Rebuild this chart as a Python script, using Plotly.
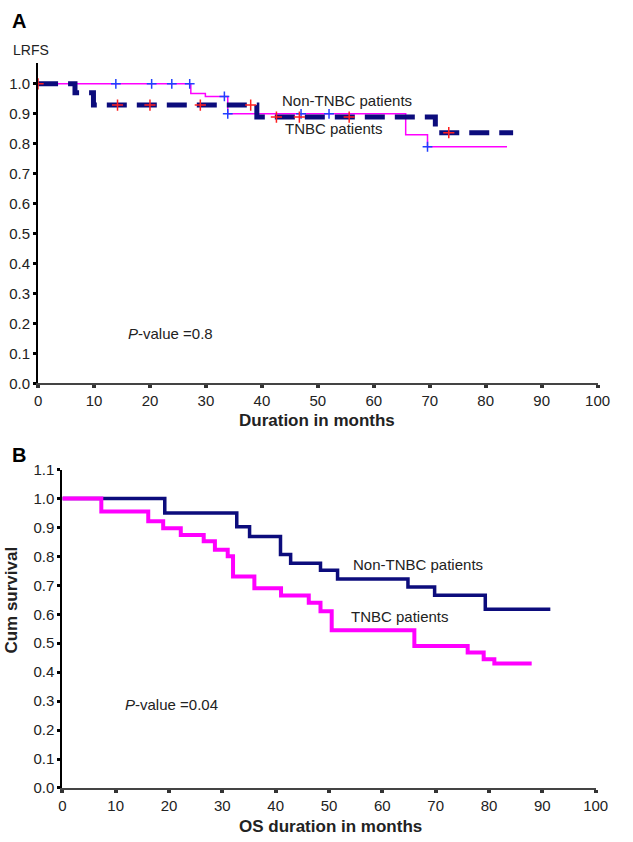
import plotly.graph_objects as go

# ---------------- Data ----------------
# Panel A: local recurrence-free survival (LRFS)
a_non_tnbc_time = [0, 6.6, 9.9, 39.1, 71.0, 84.9]
a_non_tnbc_surv = [1.0, 0.97, 0.929, 0.889, 0.837, 0.837]
a_non_tnbc_cens_time = [0, 14.2, 20.0, 29.0, 38.0, 42.6, 46.7, 55.6, 73.4]
a_non_tnbc_cens_surv = [1.0, 0.929, 0.929, 0.929, 0.929, 0.889, 0.889, 0.889, 0.837]

a_tnbc_time = [0, 27.3, 29.9, 33.9, 65.7, 69.6, 83.8]
a_tnbc_surv = [1.0, 0.968, 0.958, 0.90, 0.83, 0.79, 0.79]
a_tnbc_cens_time = [13.9, 20.3, 23.9, 27.1, 33.3, 33.9, 47.0, 52.0, 69.6]
a_tnbc_cens_surv = [1.0, 1.0, 1.0, 1.0, 0.958, 0.90, 0.90, 0.90, 0.79]

# Panel B: overall survival
b_non_tnbc_time = [0, 19.2, 32.7, 35.1, 40.9, 42.8, 48.4, 51.6, 64.8, 69.8, 79.3, 91.5]
b_non_tnbc_surv = [1.0, 0.95, 0.902, 0.869, 0.806, 0.776, 0.752, 0.722, 0.694, 0.666, 0.617, 0.617]

b_tnbc_time = [0, 7.3, 16.1, 18.9, 22.2, 26.5, 28.6, 31.0, 32.0, 36.0, 41.0, 46.2, 48.4,
               50.5, 66.0, 76.0, 79.0, 81.0, 88.0]
b_tnbc_surv = [1.0, 0.955, 0.921, 0.897, 0.874, 0.852, 0.823, 0.80, 0.73, 0.69, 0.665, 0.64,
               0.61, 0.545, 0.49, 0.468, 0.445, 0.43, 0.43]

x_ticks = list(range(0, 101, 10))
ya_ticks = [round(i * 0.1, 1) for i in range(0, 11)]
yb_ticks = [round(i * 0.1, 1) for i in range(0, 12)]

NAVY = "#0c0c7c"
MAGENTA = "#ff00ff"
FONT = "Liberation Sans, Arial, sans-serif"

W, H = 633, 842

def px_x(p):
    return p / W

def px_y(p):
    return 1 - p / H

fig = go.Figure()

# Panel A traces
fig.add_trace(go.Scatter(x=a_tnbc_time, y=a_tnbc_surv, mode="lines", line_shape="hv",
                         line=dict(color=MAGENTA, width=1.5), xaxis="x", yaxis="y",
                         showlegend=False))
fig.add_trace(go.Scatter(x=a_non_tnbc_time, y=a_non_tnbc_surv, mode="lines", line_shape="hv",
                         line=dict(color=NAVY, width=5, dash="20px,10px"), xaxis="x", yaxis="y",
                         showlegend=False))
fig.add_trace(go.Scatter(x=a_tnbc_cens_time, y=a_tnbc_cens_surv, mode="markers",
                         marker=dict(symbol="cross-thin", size=7, line=dict(color="#2040ff", width=1.5)),
                         xaxis="x", yaxis="y", showlegend=False))
fig.add_trace(go.Scatter(x=a_non_tnbc_cens_time, y=a_non_tnbc_cens_surv, mode="markers",
                         marker=dict(symbol="cross-thin", size=8, line=dict(color="#ff2020", width=1.5)),
                         xaxis="x", yaxis="y", showlegend=False))

# Panel B traces
fig.add_trace(go.Scatter(x=b_non_tnbc_time, y=b_non_tnbc_surv, mode="lines", line_shape="hv",
                         line=dict(color=NAVY, width=3.5), xaxis="x2", yaxis="y2",
                         showlegend=False))
fig.add_trace(go.Scatter(x=b_tnbc_time, y=b_tnbc_surv, mode="lines", line_shape="hv",
                         line=dict(color=MAGENTA, width=4), xaxis="x2", yaxis="y2",
                         showlegend=False))

axis_common = dict(showgrid=False, zeroline=False, ticks="outside",
                   tickfont=dict(family=FONT, size=15, color="#222"))

fig.update_layout(
    width=W, height=H,
    margin=dict(l=0, r=0, t=0, b=0),
    paper_bgcolor="white", plot_bgcolor="white",
    xaxis=dict(domain=[px_x(35), px_x(610)], range=[0, 100], anchor="y",
               tickvals=x_ticks, showline=True, linecolor="#444", linewidth=1.5,
               ticklen=3, tickwidth=4, tickcolor="#333", **axis_common),
    yaxis=dict(domain=[px_y(382), px_y(55)], range=[0, 1.07], anchor="x",
               tickvals=ya_ticks, tickformat=".1f", showline=True, linecolor="black",
               linewidth=2, ticklen=3, tickwidth=3, tickcolor="black", **axis_common),
    xaxis2=dict(domain=[px_x(60), px_x(608)], range=[0, 100], anchor="y2",
                tickvals=x_ticks, showline=True, linecolor="#444", linewidth=1.5,
                ticklen=3, tickwidth=4, tickcolor="#333", **axis_common),
    yaxis2=dict(domain=[px_y(795), px_y(470)], range=[0, 1.1], anchor="x2",
                tickvals=yb_ticks, tickformat=".1f", showline=True, linecolor="black",
                linewidth=2, ticklen=3, tickwidth=3, tickcolor="black", **axis_common),
)


def paper_text(text, x, y, size, xanchor="center", angle=0, color="#222"):
    return dict(text=text, x=px_x(x), y=px_y(y), xref="paper", yref="paper",
                xanchor=xanchor, yanchor="middle", textangle=angle, showarrow=False,
                font=dict(family=FONT, size=size, color=color))


def data_text(text, x, y, xref, yref, size=15):
    return dict(text=text, x=x, y=y, xref=xref, yref=yref, xanchor="left",
                yanchor="middle", showarrow=False,
                font=dict(family=FONT, size=size, color="#222"))


ann = [
    paper_text("<b>A</b>", 15, 12, 20, color="black"),
    paper_text("<b>B</b>", 15, 455, 20, color="black"),
    paper_text("LRFS", 7, 42, 14, xanchor="left"),
    paper_text("<b>Duration in months</b>", 322, 420, 17),
    paper_text("<b>OS duration in months</b>", 335, 834, 17),
    paper_text("<b>Cum survival</b>", 8, 603, 17, angle=-90),
    data_text("Non-TNBC patients", 43.2, 0.944, "x", "y"),
    data_text("TNBC patients", 43.8, 0.852, "x", "y"),
    data_text("<i>P</i>-value =0.8", 15.8, 0.165, "x", "y"),
    data_text("Non-TNBC patients", 54.1, 0.773, "x2", "y2"),
    data_text("TNBC patients", 53.8, 0.592, "x2", "y2"),
    data_text("<i>P</i>-value =0.04", 11.3, 0.288, "x2", "y2"),
]

fig.update_layout(annotations=ann)

# remove the default 8px page margin so the figure sits at the window's top-left corner
fig.write_html("out.html",
               config={"displayModeBar": False},
               post_script="document.body.style.margin='0';document.body.style.overflow='hidden';")
